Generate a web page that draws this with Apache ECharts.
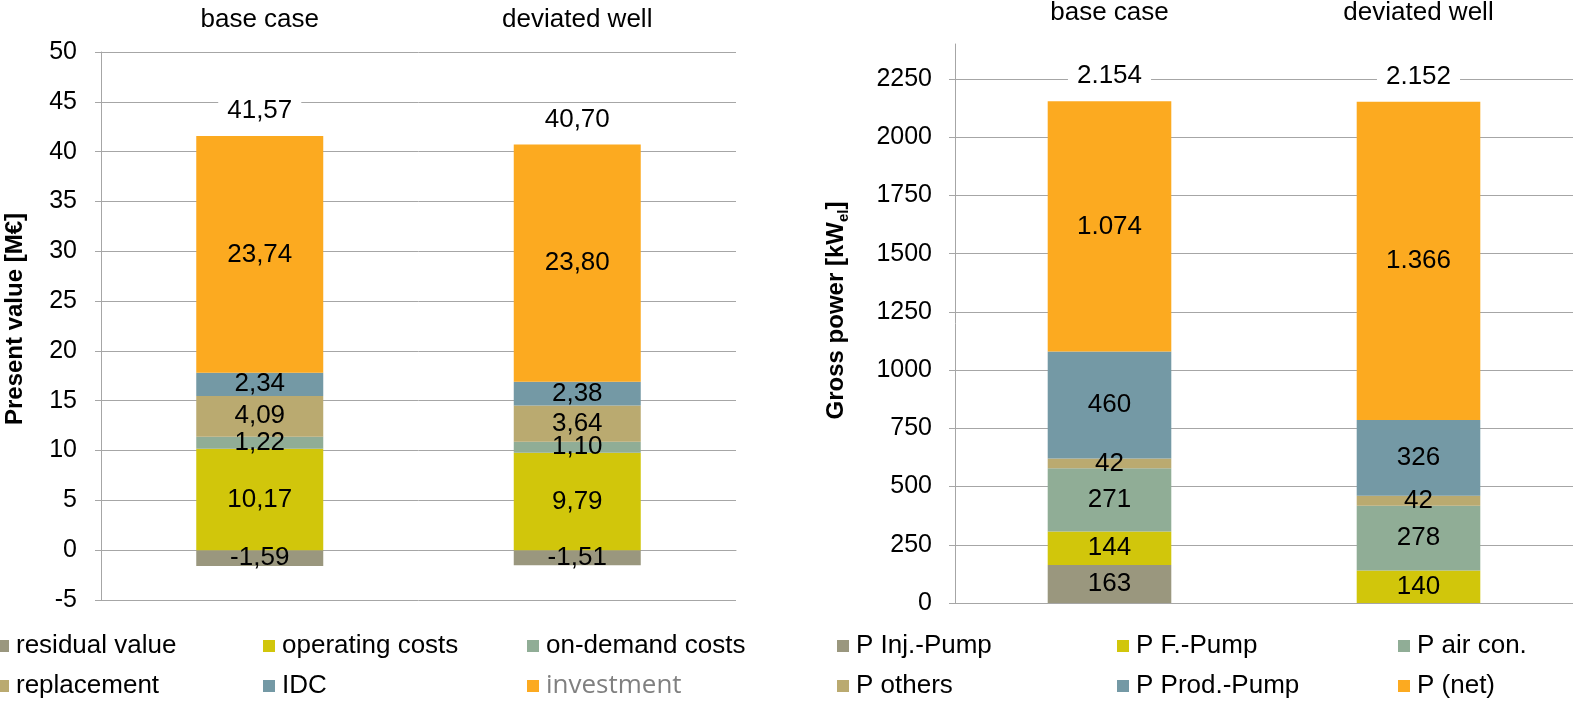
<!DOCTYPE html>
<html>
<head>
<meta charset="utf-8">
<script src="https://cdn.jsdelivr.net/npm/echarts@6/dist/echarts.min.js"></script>
<style>html,body{margin:0;padding:0;background:#fff;}#c{width:1573px;height:701px;}</style>
</head>
<body>
<div id="c"></div>
<script>
// ---- data ----
const categories = ['base case', 'deviated well'];

const costNames = ['residual value', 'operating costs', 'on-demand costs', 'replacement', 'IDC', 'investment'];
const residualValue = [-1.59, -1.51];
const operatingCosts = [10.17, 9.79];
const onDemandCosts = [1.22, 1.10];
const replacement = [4.09, 3.64];
const idc = [2.34, 2.38];
const investment = [23.74, 23.80];
const costTotals = [41.57, 40.70];

const powerNames = ['P Inj.-Pump', 'P F.-Pump', 'P air con.', 'P others', 'P Prod.-Pump', 'P (net)'];
const pInjPump = [163, 0];
const pFPump = [144, 140];
const pAirCon = [271, 278];
const pOthers = [42, 42];
const pProdPump = [460, 326];
const pNet = [1074, 1366];
const powerTotals = [2154, 2152];

const costTicks = { min: -5, max: 50, interval: 5 };
const powerTickValues = [0, 250, 500, 750, 1000, 1250, 1500, 1750, 2000, 2250];
const powerAxisMax = 2400;

const colors = ['#9A977E', '#D1C60B', '#90AD96', '#BAAA70', '#7499A5', '#FCAA20'];

// ---- helpers ----
const FONT = "'Liberation Sans', Arial, sans-serif";
const fmtComma = v => v.toFixed(2).replace('.', ',');
const fmtThousand = v => {
  if (!v) return '';
  if (Math.abs(v) >= 1000) {
    const r = Math.round(v);
    return Math.floor(r / 1000) + '.' + String(r % 1000).padStart(3, '0');
  }
  return String(v);
};
const grey = '#A6A6A6';

const costData = [residualValue, operatingCosts, onDemandCosts, replacement, idc, investment];
const powerData = [pInjPump, pFPump, pAirCon, pOthers, pProdPump, pNet];

const series = [];
costNames.forEach((n, i) => {
  series.push({
    name: n, type: 'bar', stack: 'cost', xAxisIndex: 0, yAxisIndex: 0,
    barWidth: '40%', data: costData[i], itemStyle: { color: colors[i] },
    label: { show: true, position: 'inside', color: '#000', fontSize: 26, fontFamily: FONT,
      formatter: p => fmtComma(p.value) }
  });
});
series.push({
  name: 'costTotal', type: 'scatter', xAxisIndex: 0, yAxisIndex: 0, symbolSize: 0,
  data: costTotals, silent: true, itemStyle: { opacity: 1 },
  label: { show: true, position: 'top', distance: 12, color: '#000', fontSize: 26, fontFamily: FONT,
    backgroundColor: '#fff', padding: [0, 9], formatter: p => fmtComma(p.value) }
});
powerNames.forEach((n, i) => {
  series.push({
    name: n, type: 'bar', stack: 'power', xAxisIndex: 2, yAxisIndex: 1,
    barWidth: '40%', data: powerData[i], itemStyle: { color: colors[i] },
    label: { show: true, position: 'inside', color: '#000', fontSize: 26, fontFamily: FONT,
      formatter: p => fmtThousand(p.value) }
  });
});
series.push({
  name: 'powerTotal', type: 'scatter', xAxisIndex: 2, yAxisIndex: 1, symbolSize: 0,
  data: powerTotals, silent: true, itemStyle: { opacity: 1 },
  label: { show: true, position: 'top', distance: 12, color: '#000', fontSize: 26, fontFamily: FONT,
    backgroundColor: '#fff', padding: [0, 9], formatter: p => fmtThousand(p.value) }
});

// legends
const legends = [];
const legendCols1 = [-3, 527 - 264, 527];
const legendCols2 = [837, 1117, 1398];
const legendRows = [633, 673];
function addLegend(name, left, top, special) {
  legends.push({
    data: [name], left: left, top: top, padding: 0, icon: 'rect',
    itemWidth: 12, itemHeight: 12, selectedMode: false,
    textStyle: special
      ? { fontSize: 26, color: '#808080', fontFamily: "'Open Sans', sans-serif", padding: [0, 0, 0, 2] }
      : { fontSize: 26, color: '#000', fontFamily: FONT, padding: [0, 0, 0, 2] }
  });
}
costNames.forEach((n, i) => addLegend(n, legendCols1[i % 3], legendRows[Math.floor(i / 3)], n === 'investment'));
powerNames.forEach((n, i) => addLegend(n, legendCols2[i % 3], legendRows[Math.floor(i / 3)], false));

const option = {
  animation: false,
  textStyle: { fontFamily: FONT },
  grid: [
    { left: 101, top: 52, width: 635, height: 548 },
    { left: 955, top: 41, width: 636, height: 562 }
  ],
  legend: legends,
  xAxis: [
    { gridIndex: 0, type: 'category', data: categories,
      axisLine: { lineStyle: { color: grey } }, axisTick: { length: 9, lineStyle: { color: grey } },
      axisLabel: { show: false } },
    { gridIndex: 0, type: 'category', data: categories, position: 'top',
      axisLine: { show: false, onZero: false }, axisTick: { show: false },
      axisLabel: { show: true, margin: 19, fontSize: 26, color: '#000', fontFamily: FONT } },
    { gridIndex: 1, type: 'category', data: categories,
      axisLine: { lineStyle: { color: grey } }, axisTick: { length: 9, lineStyle: { color: grey } },
      axisLabel: { show: false } },
    { gridIndex: 1, type: 'category', data: categories, position: 'top',
      axisLine: { show: false, onZero: false }, axisTick: { show: false },
      axisLabel: { show: true, margin: 18, fontSize: 26, color: '#000', fontFamily: FONT } }
  ],
  yAxis: [
    { gridIndex: 0, type: 'value', min: costTicks.min, max: costTicks.max, interval: costTicks.interval,
      axisLine: { show: true, lineStyle: { color: grey } },
      axisTick: { show: true, length: 6, lineStyle: { color: grey } },
      splitLine: { lineStyle: { color: grey } },
      axisLabel: { fontSize: 25, color: '#000', margin: 24, fontFamily: FONT },
      name: 'Present value [M€]', nameLocation: 'middle', nameGap: 74,
      nameTextStyle: { fontSize: 24, fontWeight: 'bold', color: '#000', fontFamily: FONT, padding: [0, 0, 0, 14] } },
    { gridIndex: 1, type: 'value', min: 0, max: powerAxisMax, interval: 250,
      axisLine: { show: true, lineStyle: { color: grey } },
      axisTick: { show: true, length: 6, lineStyle: { color: grey }, customValues: powerTickValues },
      splitLine: { lineStyle: { color: grey } },
      axisLabel: { fontSize: 25, color: '#000', margin: 23, fontFamily: FONT, customValues: powerTickValues,
        formatter: v => String(v) },
      name: '{b|Gross power [kW}{s|el}{b|]}', nameLocation: 'middle', nameGap: 104,
      nameTextStyle: {
        padding: [0, 0, 0, 26],
        rich: {
          b: { fontSize: 24, fontWeight: 'bold', color: '#000', fontFamily: FONT, lineHeight: 30 },
          s: { fontSize: 15, fontWeight: 'bold', color: '#000', fontFamily: FONT, verticalAlign: 'bottom', lineHeight: 22 }
        }
      } }
  ],
  series: series
};

const chart = echarts.init(document.getElementById('c'), null, { renderer: 'canvas' });
chart.setOption(option);
</script>
</body>
</html>
